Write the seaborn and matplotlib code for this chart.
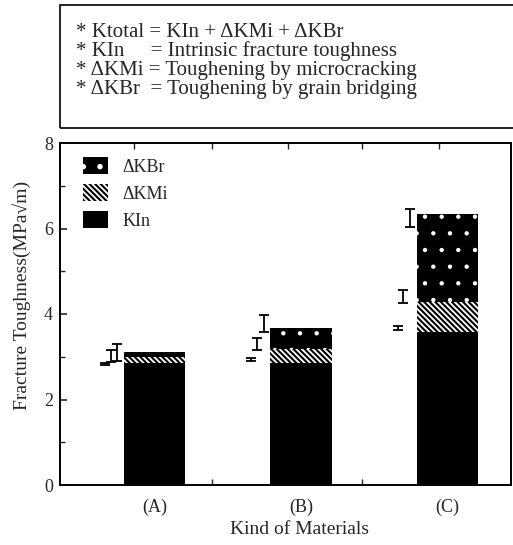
import numpy as np
import pandas as pd
import matplotlib
matplotlib.use("Agg")
import matplotlib.pyplot as plt
from matplotlib.patches import Patch, Rectangle
from matplotlib.ticker import MultipleLocator, FixedLocator
import seaborn as sns

# ---------------- data ----------------
materials = ["(A)", "(B)", "(C)"]
k_in = [2.85, 2.85, 3.58]          # intrinsic toughness
dk_mi = [0.14, 0.33, 0.70]         # toughening by microcracking
dk_br = [0.12, 0.50, 2.05]         # toughening by grain bridging

err1_mean = [2.83, 2.93, 3.67]
err1_sd = [0.03, 0.04, 0.04]
err2_mean = [3.02, 3.30, 4.41]
err2_sd = [0.14, 0.14, 0.15]
err3_mean = [3.10, 3.78, 6.25]
err3_sd = [0.20, 0.20, 0.21]

legend_labels = ["ΔKBr", "ΔKMi", "KIn"]
box_lines = [
    "* Ktotal = KIn + ΔKMi + ΔKBr",
    "* KIn     = Intrinsic fracture toughness",
    "* ΔKMi = Toughening by microcracking",
    "* ΔKBr  = Toughening by grain bridging",
]

df = pd.DataFrame({"Material": materials, "KIn": k_in, "Mi": dk_mi, "Br": dk_br})
df["KIn_Mi"] = df["KIn"] + df["Mi"]
df["Total"] = df["KIn_Mi"] + df["Br"]

# ---------------- style ----------------
sns.set_style("ticks")
plt.rcParams["font.family"] = ["Liberation Serif", "DejaVu Serif"]
plt.rcParams["hatch.linewidth"] = 1.5
plt.rcParams["axes.linewidth"] = 1.4

BR_HATCH = "."
MI_HATCH = "\\\\\\\\\\\\"

W, H = 513, 545
fig = plt.figure(figsize=(W / 100, H / 100), dpi=100)
ax = fig.add_axes([60 / W, 60 / H, 451 / W, 342 / H])


def style_br(p):
    p.set_facecolor("black")
    p.set_edgecolor("white")
    p.set_hatch(BR_HATCH)
    p.set_linewidth(0)
    if hasattr(p, "set_hatch_linewidth"):
        p.set_hatch_linewidth(0.7)


def style_mi(p):
    p.set_facecolor("white")
    p.set_edgecolor("black")
    p.set_hatch(MI_HATCH)
    p.set_linewidth(0)
    if hasattr(p, "set_hatch_linewidth"):
        p.set_hatch_linewidth(1.5)


# stacked bars drawn back to front
sns.barplot(data=df, x="Material", y="Total", color="black", saturation=1,
            width=0.42, ax=ax, errorbar=None)
for p in ax.containers[-1]:
    style_br(p)

sns.barplot(data=df, x="Material", y="KIn_Mi", color="white", saturation=1,
            width=0.42, ax=ax, errorbar=None)
for p in ax.containers[-1]:
    style_mi(p)

sns.barplot(data=df, x="Material", y="KIn", color="black", saturation=1,
            width=0.42, ax=ax, errorbar=None)
for p in ax.containers[-1]:
    p.set_facecolor("black")
    p.set_edgecolor("black")
    p.set_linewidth(0)

# error bars to the left of each bar
xpos = np.arange(len(materials))
for off, m, s in [(-0.34, err1_mean, err1_sd),
                  (-0.30, err2_mean, err2_sd),
                  (-0.255, err3_mean, err3_sd)]:
    ax.errorbar(xpos + off, m, yerr=s, fmt="none", ecolor="black",
                elinewidth=1.3, capsize=3.5, capthick=1.3)

ax.set_xlim(-0.645, 2.435)
ax.set_ylim(0, 8)
for sp in ["top", "right", "left", "bottom"]:
    ax.spines[sp].set_visible(True)
    ax.spines[sp].set_color("black")

ax.yaxis.set_major_locator(MultipleLocator(2))
ax.yaxis.set_minor_locator(MultipleLocator(1))
ax.tick_params(axis="y", which="major", direction="in", length=5, width=1.2,
               labelsize=13, pad=5, right=False)
ax.tick_params(axis="y", which="minor", direction="in", length=3.5, width=1.0,
               right=False)
ax.xaxis.set_minor_locator(FixedLocator([-0.14, 0.39, 0.91, 1.42, 1.94]))
ax.tick_params(axis="x", which="major", length=0, labelsize=13, pad=10)
ax.tick_params(axis="x", which="minor", direction="in", length=4, width=1.0,
               top=True, bottom=True)

ax.set_xlabel("Kind of Materials", fontsize=14)
ax.xaxis.set_label_coords(0.53, -0.105)
ax.set_ylabel("Fracture Toughness(MPa√m)", fontsize=14)
ax.yaxis.set_label_coords(-0.065, 0.555)

h_br = Patch(facecolor="black", edgecolor="white", hatch=BR_HATCH, linewidth=0)
h_mi = Patch(facecolor="white", edgecolor="black", hatch=MI_HATCH, linewidth=0)
h_kin = Patch(facecolor="black", edgecolor="black", linewidth=0)
ax.legend([h_br, h_mi, h_kin], legend_labels, loc="upper left",
          bbox_to_anchor=(23 / 451, 1 - 14 / 342), frameon=False,
          borderpad=0, borderaxespad=0, handlelength=1.4, handleheight=1.1,
          labelspacing=0.45, handletextpad=0.8, fontsize=13)

# annotation box above the plot
fig.patches.append(Rectangle((60 / W, 1 - 128 / H), 470 / W, 123 / H,
                             transform=fig.transFigure, fill=False,
                             edgecolor="black", linewidth=1.2))
fig.text(76 / W, 1 - 23 / H, "\n".join(box_lines), fontsize=15,
         va="top", ha="left", linespacing=0.97)

fig.savefig("out.png", dpi=100)
